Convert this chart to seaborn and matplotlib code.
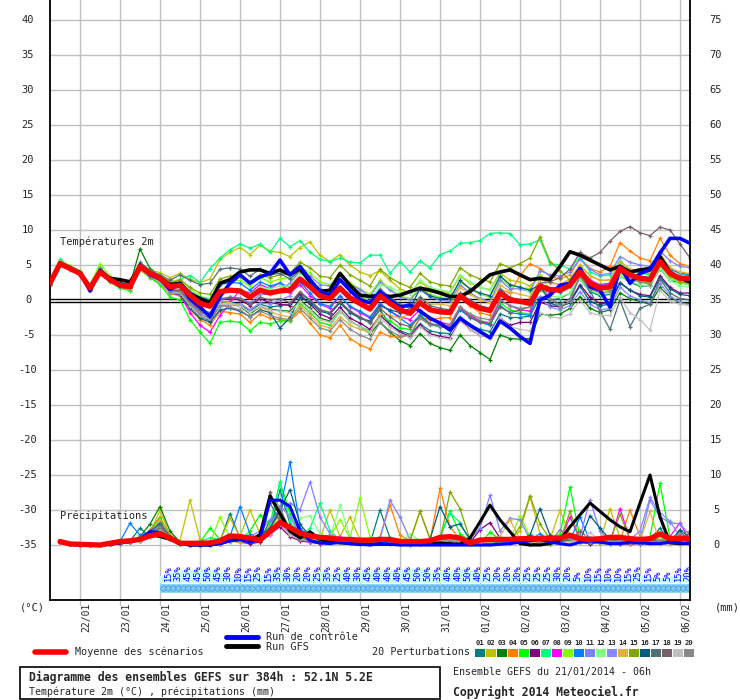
import numpy as np
import pandas as pd
import matplotlib
matplotlib.use('Agg')
import matplotlib.pyplot as plt
import matplotlib.transforms as mtransforms
from matplotlib.lines import Line2D
from matplotlib.patches import Rectangle
import seaborn as sns

# ---- data (6-hourly, run 21/01/2014 06h, 384h) ----
STEP_H = 6
DAY_LABELS = ['22/01', '23/01', '24/01', '25/01', '26/01', '27/01', '28/01', '29/01',
              '30/01', '31/01', '01/02', '02/02', '03/02', '04/02', '05/02', '06/02']
FIRST_MIDNIGHT_H = 18
PRECIP_BASE = -35
LEFT_TICKS = list(range(-35, 45, 5))
RIGHT_TICKS = list(range(0, 80, 5))

MEAN_T = [2.4, 5.2, 4.5, 3.8, 1.7, 4.0, 2.9, 2.1, 1.9, 4.8, 3.8, 3.1,
          1.9, 2.1, 0.7, -0.5, -0.9, 1.2, 1.4, 1.3, 0.4, 1.4, 1.0, 1.3,
          1.4, 3.0, 1.9, 0.6, 0.2, 1.7, 0.3, -0.5, -1.3, 0.6, -0.5, -1.4,
          -1.9, -0.4, -1.4, -1.7, -1.8, 0.6, -0.5, -1.2, -1.5, 1.0, 0.0, -0.2,
          -0.5, 2.0, 1.5, 1.4, 2.1, 4.0, 2.4, 1.7, 1.9, 4.5, 3.6, 3.1,
          2.9, 5.5, 3.8, 3.1, 3.1]
CTRL_T = [2.3, 5.3, 4.6, 3.9, 1.3, 4.2, 2.8, 2.3, 2.0, 5.0, 3.6, 3.0, 1.5, 2.3,
          0.2, -1.0, -2.4, 0.5, 2.4, 3.6, 2.4, 3.3, 3.8, 5.7, 3.6, 4.8, 2.9, 1.2, 0.7, 2.9, 1.4, 0.0,
          -0.4, 1.2, 0.0, -1.0, -0.7, -1.6, -2.6, -3.3, -4.3, -2.6, -3.6, -4.5, -5.4, -3.0, -4.0, -5.2, -6.2,
          0.0, 0.7, 2.1, 2.4, 4.5, 1.9, 1.4, -1.0, 4.8, 2.4, 3.8, 4.3, 6.7, 8.8, 8.8, 8.1]
GFS_T = [2.4, 5.1, 4.5, 3.8, 1.8, 4.1, 3.1, 2.9, 2.6, 4.7, 3.8, 3.2, 2.2, 2.4,
         0.9, 0.2, -0.4, 2.4, 2.9, 4.0, 4.3, 4.3, 3.8, 4.3, 3.6, 4.5, 2.6, 1.2, 1.4, 3.8, 2.1, 0.7,
         0.5, 0.7, 0.5, 0.7, 1.2, 1.7, 1.4, 1.0, 0.5, 0.5, 1.2, 2.4, 3.6, 4.0, 4.3, 3.6, 2.9,
         3.1, 2.9, 4.8, 6.9, 6.4, 5.7, 5.0, 4.3, 4.8, 4.0, 4.3, 4.5, 6.2, 4.0, 3.1, 2.6]

T01 = [2.2, 5.0, 4.6, 3.9, 1.5, 4.2, 2.8, 2.0, 1.7, 4.6, 3.5, 2.7, 1.2, 1.3, -0.2, -1.6,
       -2.2, -0.3, -0.3, -0.6, -1.6, -0.6, -1.0, -0.8, -0.6, 1.0, -0.1, -1.4, -1.8, -0.3, -1.7, -2.5,
       -3.3, -1.4, -3.5, -4.4, -4.9, -3.4, -4.4, -4.7, -4.8, -2.4, -3.5, -4.2, -4.5, -2.0, -2.5, -2.5,
       -2.3, 0.5, 0.0, 0.2, 1.0, 3.0, 1.2, 0.6, 0.8, 3.5, 2.5, 2.0, 2.0, 4.5, 2.8, 2.5, 2.2]
T02 = [2.6, 5.6, 4.9, 4.0, 2.0, 4.3, 3.2, 2.5, 2.3, 5.2, 4.3, 3.9, 3.2, 3.8, 3.0, 2.5,
       3.0, 5.8, 6.8, 7.5, 6.5, 7.8, 7.0, 6.8, 6.2, 7.5, 8.3, 6.4, 5.5, 6.5, 5.0, 4.0,
       3.5, 4.2, 2.8, 1.6, 1.0, 2.6, 1.6, 1.3, 1.0, 3.4, 2.4, 1.8, 1.5, 3.9, 2.8, 2.6,
       2.0, 3.4, 2.6, 2.2, 3.0, 5.0, 3.5, 2.8, 2.9, 5.5, 4.4, 3.9, 3.8, 6.6, 4.6, 3.8, 3.6]
T03 = [2.2, 5.4, 4.6, 3.9, 1.6, 4.4, 3.0, 2.3, 2.1, 7.3, 4.5, 3.3, 1.5, 1.2, -0.8, -2.3,
       -3.0, -0.8, -0.6, -0.9, -2.0, -1.0, -1.3, -1.5, -1.6, 0.0, -1.2, -2.6, -3.0, -1.5, -3.0, -3.8,
       -4.8, -3.2, -4.6, -5.8, -6.5, -4.8, -6.2, -6.8, -7.2, -5.0, -6.5, -7.5, -8.5, -5.0, -5.5, -5.6,
       -5.5, -2.0, -2.2, -2.0, -1.2, 0.5, -1.2, -1.8, -1.4, 1.0, 0.2, -0.2, -0.6, 1.8, 0.4, -0.4, -0.5]
T04 = [2.4, 5.1, 4.4, 3.7, 1.6, 3.8, 2.6, 1.8, 1.5, 4.3, 3.2, 2.4, 0.9, 0.6, -1.3, -2.8,
       -3.6, -1.6, -1.8, -2.0, -3.2, -2.0, -2.6, -2.8, -3.0, -1.6, -3.3, -5.0, -5.4, -3.6, -5.5, -6.4,
       -7.0, -4.6, -5.2, -5.3, -5.0, -2.5, -2.8, -2.6, -2.5, 0.6, -0.8, -1.8, -2.2, 1.5, 1.0, 3.5,
       5.2, 4.5, 3.4, 3.0, 3.6, 6.0, 4.5, 4.0, 4.8, 8.2, 7.0, 6.0, 5.6, 8.8, 6.4, 5.2, 4.8]
T05 = [2.3, 5.2, 4.4, 3.6, 1.4, 3.9, 2.6, 1.7, 1.3, 4.4, 3.2, 2.2, 0.4, 0.0, -2.8, -4.6,
       -6.2, -3.2, -3.0, -3.2, -4.4, -3.2, -3.4, -3.0, -3.0, -0.5, -1.8, -3.2, -3.6, -1.6, -3.0, -3.8,
       -4.4, -2.2, -3.0, -4.0, -4.2, -2.0, -3.4, -3.6, -3.8, -1.0, -2.0, -3.0, -3.2, -0.4, -1.4, -1.8,
       -2.0, 1.5, 1.2, 1.4, 2.4, 4.8, 2.8, 2.0, 2.4, 5.0, 3.8, 3.2, 3.0, 6.0, 4.0, 3.0, 2.8]
T06 = [2.5, 5.2, 4.4, 3.9, 1.7, 4.1, 2.9, 2.0, 1.8, 4.6, 3.6, 2.9, 1.4, 1.4, -0.3, -1.6,
       -2.0, 0.0, 0.2, 0.0, -0.8, 0.2, -0.4, -0.6, -0.8, 0.8, -0.6, -2.0, -2.6, -1.0, -2.6, -3.3,
       -4.2, -2.2, -3.5, -4.6, -5.2, -3.6, -4.8, -5.2, -5.4, -2.8, -4.2, -5.0, -5.4, -2.6, -3.6, -3.2,
       -3.2, -0.3, -0.8, -1.0, -0.2, 2.2, 0.4, -0.5, -0.4, 2.5, 1.4, 0.8, 0.6, 3.5, 1.8, 1.0, 1.0]
T07 = [2.7, 5.8, 4.8, 4.2, 2.0, 4.6, 3.2, 2.5, 2.2, 5.2, 4.0, 3.5, 2.4, 3.0, 3.5, 2.5,
       4.5, 6.0, 7.2, 8.0, 7.4, 8.0, 6.8, 8.8, 7.6, 8.5, 6.8, 5.8, 5.5, 6.0, 5.4, 5.3,
       6.4, 6.4, 3.8, 5.5, 4.0, 5.6, 4.6, 6.5, 7.0, 8.1, 8.2, 8.5, 9.5, 9.6, 9.5, 7.9,
       8.0, 8.6, 5.2, 5.0, 4.4, 6.2, 4.0, 3.4, 3.6, 5.6, 4.2, 3.8, 3.6, 5.8, 4.5, 3.8, 3.4]
T08 = [2.4, 5.2, 4.5, 3.8, 1.6, 4.0, 2.8, 2.0, 1.8, 4.6, 3.5, 2.7, 1.0, 0.8, -1.8, -3.6,
       -4.6, -2.2, -0.5, 1.5, 1.0, 2.2, 1.6, 2.5, 1.0, 2.2, 0.6, -0.6, -1.2, 0.6, -1.0, -1.8,
       -2.6, -0.5, -1.6, -2.4, -2.8, -1.4, -2.6, -3.2, -3.5, -1.0, -2.2, -3.0, -3.4, 0.0, -0.8, -1.4,
       -1.6, 1.8, 1.0, 1.5, 2.5, 4.6, 2.8, 2.2, 2.4, 4.6, 3.4, 3.4, 3.2, 5.2, 3.6, 3.4, 3.2]
T09 = [2.6, 5.6, 4.9, 4.1, 2.2, 5.2, 3.4, 2.4, 2.2, 5.0, 4.1, 3.6, 2.6, 2.9, 1.6, 0.5,
       0.2, 2.6, 2.8, 2.8, 2.0, 3.2, 2.6, 3.0, 3.2, 4.8, 3.8, 2.6, 2.2, 3.8, 2.4, 1.6,
       0.8, 2.8, 1.6, 0.6, 0.2, 1.8, 0.8, 0.4, 0.2, 2.6, 1.6, 0.8, 0.4, 3.0, 2.0, 1.8,
       1.6, 3.6, 1.5, 1.0, 1.8, 3.8, 2.0, 1.2, 1.4, 4.0, 3.0, 2.6, 2.4, 5.0, 3.2, 2.4, 2.2]
T10 = [2.4, 5.3, 4.5, 3.8, 1.8, 4.1, 3.0, 2.1, 2.0, 4.9, 3.9, 3.2, 2.2, 2.6, 1.2, 0.4,
       0.0, 2.2, 2.5, 2.4, 1.4, 2.6, 2.0, 2.4, 1.8, 2.6, 1.0, -0.5, -0.9, 0.6, -0.9, -1.6,
       -2.4, -0.6, -1.6, -2.6, -3.6, -2.2, -3.4, -3.8, -4.0, -1.4, -2.5, -3.2, -3.6, -0.8, -1.8, -2.0,
       -2.2, 1.8, 1.4, 1.2, 2.0, 4.2, 2.6, 2.0, 2.0, 4.8, 3.8, 3.4, 3.2, 5.6, 4.4, 3.8, 3.6]
T11 = [2.3, 5.1, 4.3, 3.7, 1.4, 3.8, 2.7, 1.9, 1.7, 4.5, 3.4, 2.6, 1.2, 1.2, -0.4, -1.8,
       -2.2, 0.0, 0.4, 0.3, -0.4, 0.8, 0.8, 1.5, 2.4, 4.2, 3.4, 2.2, 2.0, 3.6, 2.2, 1.5,
       0.5, 2.6, 1.4, 0.5, 0.0, 1.5, 0.4, 0.0, -0.2, 2.2, 1.0, 0.2, -0.2, 2.8, 1.6, 1.6,
       1.2, 4.2, 3.6, 3.4, 4.0, 5.8, 4.4, 3.6, 3.8, 6.2, 5.4, 5.0, 4.8, 7.0, 5.6, 4.8, 4.6]
T12 = [2.4, 5.3, 4.6, 3.8, 1.9, 4.2, 3.0, 2.2, 2.0, 4.9, 3.9, 3.2, 2.0, 2.2, 0.8, -0.3,
       -0.6, 1.4, 1.6, 1.6, 0.8, 1.8, 1.6, 2.0, 2.0, 3.8, 2.8, 1.6, 1.2, 2.8, 1.4, 0.6,
       -0.2, 2.2, 1.8, 1.2, 1.0, 2.8, 1.8, 1.4, 1.2, 3.6, 2.6, 1.8, 1.4, 3.6, 2.2, 1.8,
       1.2, 1.8, 0.6, 0.4, 1.0, 3.0, 1.4, 0.8, 1.0, 3.4, 2.6, 2.2, 2.0, 4.6, 2.8, 2.0, 1.8]
T13 = [2.4, 5.2, 4.4, 3.8, 1.6, 4.0, 2.8, 2.0, 1.8, 4.7, 3.6, 2.9, 1.4, 1.0, -0.8, -2.4,
       -2.8, -0.8, -0.6, -0.5, -1.4, -0.4, -0.6, 0.0, 0.6, 3.0, 2.0, 0.8, 0.4, 2.0, 0.6, -0.2,
       -1.0, 1.0, -0.2, -1.2, -1.6, 0.0, -1.2, -1.4, -1.6, 1.0, -0.2, -1.0, -1.2, 1.4, 0.2, 0.0,
       -0.2, 0.4, -1.0, -1.4, -0.8, 1.2, -0.6, -1.4, -1.2, 1.8, 0.6, 0.0, -0.4, 2.4, 0.6, -0.4, -0.7]
T14 = [2.4, 5.1, 4.5, 3.7, 1.7, 3.9, 2.9, 2.1, 1.8, 4.7, 3.7, 2.8, 1.5, 1.8, 0.0, -1.5,
       -2.0, -0.2, -0.4, -0.8, -1.8, -1.0, -1.6, -2.2, -2.4, -0.8, -2.2, -3.6, -4.0, -2.4, -3.6, -4.2,
       -4.6, -2.0, -2.2, -2.6, -2.0, 0.4, -0.6, -0.6, -0.8, 1.8, 0.8, 0.0, -0.4, 2.2, 1.2, 0.8,
       0.5, 3.0, 2.4, 2.2, 3.0, 5.0, 3.4, 2.8, 2.8, 5.4, 4.4, 4.0, 3.8, 6.4, 4.6, 4.0, 3.8]
T15 = [2.5, 5.4, 4.6, 3.9, 1.9, 4.3, 3.1, 2.3, 2.1, 5.0, 4.0, 3.4, 2.4, 2.9, 1.8, 1.0,
       0.8, 3.0, 3.4, 3.4, 2.6, 3.6, 3.2, 3.6, 3.8, 5.4, 4.6, 3.4, 3.2, 5.0, 3.6, 2.8,
       2.0, 4.4, 3.2, 2.4, 1.8, 3.8, 2.6, 2.2, 2.0, 4.6, 3.6, 3.0, 2.6, 5.2, 4.6, 5.2,
       6.0, 9.0, 5.5, 4.2, 2.8, 4.6, 2.4, 1.6, 1.4, 4.0, 3.0, 2.6, 2.4, 5.0, 3.4, 2.6, 2.4]
T16 = [2.3, 5.0, 4.4, 3.7, 1.5, 4.0, 2.8, 2.0, 1.7, 4.6, 3.5, 2.7, 1.0, 0.8, -1.2, -2.6,
       -3.2, -1.4, -1.2, -1.6, -2.4, -1.4, -1.8, -4.0, -2.5, 0.4, -0.4, -1.6, -2.0, -0.4, -1.8, -2.6,
       -3.0, -0.8, -1.4, -1.8, -1.2, 1.6, 0.6, 0.2, 0.2, 2.8, 1.6, 1.0, 0.6, 3.4, 2.2, 1.8,
       1.4, 2.2, -0.4, -1.0, -0.4, 2.0, -0.2, -0.8, -0.6, 2.4, 1.4, 0.6, 0.4, 3.2, 1.6, 0.8, 0.6]
T17 = [2.5, 5.4, 4.7, 4.0, 1.9, 4.6, 3.2, 2.4, 2.2, 5.4, 4.2, 3.6, 2.8, 3.6, 2.8, 2.2,
       2.4, 4.4, 4.6, 4.4, 3.4, 4.4, 3.6, 3.8, 3.0, 4.2, 2.8, 1.6, 1.2, 2.8, 1.2, 0.4,
       -0.4, 1.6, 0.4, -0.6, -1.2, 0.4, -0.8, -1.2, -1.4, 1.0, 0.0, -0.8, -1.2, 1.6, 0.4, 0.0,
       -0.4, 1.6, 0.2, -0.6, 0.2, 3.4, 1.4, -1.6, -4.2, 0.0, -3.8, -1.2, -0.6, 3.0, 1.0, 0.2, 0.0]
T18 = [2.4, 5.2, 4.5, 3.8, 1.6, 4.1, 2.9, 2.1, 1.8, 4.8, 3.7, 2.9, 1.3, 1.4, -0.2, -1.4,
       -1.8, 0.2, 0.4, 0.2, -0.6, 0.4, 0.0, 0.2, -0.4, 1.2, 0.0, -1.4, -1.8, -0.2, -1.6, -2.4,
       -3.2, -1.2, -2.4, -3.4, -3.8, -2.4, -3.4, -3.6, -3.8, -1.2, -2.4, -3.2, -3.4, -1.0, -1.8, -1.4,
       -1.0, 2.4, 2.6, 3.2, 4.4, 6.8, 6.0, 6.8, 8.4, 9.8, 10.5, 9.6, 9.2, 10.4, 10.0, 8.0, 6.0]
T19 = [2.3, 5.0, 4.3, 3.6, 1.5, 3.8, 2.7, 1.9, 1.6, 4.4, 3.4, 2.6, 1.0, 1.0, -0.8, -2.2,
       -2.6, -0.6, -0.6, -0.8, -1.8, -0.8, -1.4, -1.6, -1.8, -0.2, -1.4, -2.8, -3.2, -1.6, -3.0, -3.8,
       -4.6, -2.6, -3.8, -4.8, -5.4, -3.8, -5.0, -5.4, -5.6, -3.0, -4.2, -5.0, -5.4, -2.6, -3.8, -4.2,
       -4.4, -1.8, -2.4, -2.6, -2.0, 0.0, -1.8, -2.2, -2.2, 0.4, -1.8, -2.8, -4.3, 1.4, -0.2, -0.6, -0.8]
T20 = [2.4, 5.1, 4.4, 3.7, 1.5, 3.9, 2.7, 1.9, 1.7, 4.6, 3.5, 2.8, 1.2, 1.2, -0.6, -2.0,
       -2.6, -0.8, -1.0, -1.4, -2.4, -1.6, -2.2, -2.6, -2.8, -1.2, -2.6, -4.0, -4.4, -2.8, -4.2, -5.0,
       -5.6, -3.2, -4.4, -5.2, -5.0, -2.6, -3.6, -3.8, -3.6, -1.0, -2.0, -2.6, -2.8, 0.0, -0.8, -1.2,
       -1.0, 2.4, 0.2, -1.0, -0.2, 3.4, 1.6, 1.0, 1.2, 4.4, 3.4, 2.6, 2.2, 5.6, 4.0, 3.2, 3.0]

# precipitation (mm per 6h), first value = +6h
MEAN_P = [0.5, 0.15, 0.1, 0.05, 0.0, 0.25, 0.5, 0.6, 0.8, 1.3, 1.6, 1.0, 0.25, 0.25, 0.25, 0.3,
          0.6, 1.3, 1.2, 1.0, 0.7, 1.9, 3.2, 2.5, 1.7, 1.3, 1.1, 1.0, 0.8, 0.8, 0.7, 0.7,
          0.8, 0.8, 0.5, 0.5, 0.5, 0.6, 1.1, 1.2, 1.0, 0.3, 0.7, 0.8, 0.8, 0.8, 0.9, 0.9,
          0.9, 1.0, 1.0, 1.4, 0.9, 0.8, 0.9, 1.1, 1.1, 0.9, 0.8, 0.9, 1.6, 0.9, 1.0, 0.9]
CTRL_P = [0.5, 0.1, 0, 0, 0, 0.1, 0.3, 0.5, 0.8, 1.9, 1.8, 1.0, 0.2, 0, 0, 0,
          0.2, 0.6, 0.8, 0.4, 0.8, 6.4, 6.4, 5.5, 2.0, 0.6, 0.3, 0.2, 0.4, 0.2, 0.1, 0.0,
          0.2, 0.1, 0, 0, 0, 0, 0, 0, 0, 0, 0, 0, 0.1, 0.2, 0.4, 0.6,
          0.8, 0.4, 0.2, 0.0, 0.4, 0.6, 0.4, 0.2, 0.2, 0.4, 0.3, 0.2, 0.2, 0.4, 0.3, 0.2]
GFS_P = [0.5, 0.1, 0, 0, 0, 0.1, 0.3, 0.5, 0.8, 1.5, 1.2, 0.8, 0.2, 0, 0, 0,
         0.2, 0.6, 0.8, 0.6, 1.5, 7.0, 4.5, 2.0, 1.0, 1.9, 0.8, 0.4, 0.3, 0.2, 0.1, 0.1,
         0.1, 0.1, 0.2, 0.1, 0.1, 0.2, 0.3, 0.2, 0.1, 1.0, 3.3, 5.7, 3.6, 1.9, 0.2, 0.0,
         0.0, 0.2, 0.7, 2.6, 4.3, 6.0, 4.8, 3.6, 2.6, 1.9, 6.0, 10.0, 4.0, 0.3, 0.2, 0.2]

P01 = [0.5, 0.1, 0, 0, 0, 0.2, 0.4, 0.6, 2.4, 1.2, 2.0, 0.8, 0.2, 0, 0, 0.3,
       0.5, 4.5, 1.0, 0.6, 0.4, 2.0, 7.9, 3.0, 1.0, 0.6, 0.4, 0.8, 0.6, 0.4, 0.3, 0.2,
       5.0, 1.0, 0.3, 0.2, 0.2, 0.4, 0.8, 0.6, 0.4, 0.2, 0.5, 0.6, 0.4, 0.3, 0.3, 0.5,
       0.8, 0.6, 0.4, 0.8, 0.6, 1.0, 0.6, 0.8, 0.5, 0.4, 0.6, 0.8, 2.4, 0.6, 2.0, 0.4]
P02 = [0.5, 0.1, 0, 0, 0, 0.3, 0.5, 0.4, 0.6, 1.6, 5.0, 1.4, 0.6, 6.4, 0.8, 0.2,
       0.6, 3.8, 1.2, 5.0, 1.6, 2.4, 3.4, 1.6, 0.8, 1.0, 0.8, 5.0, 1.2, 4.0, 0.8, 0.6,
       0.8, 0.6, 0.4, 0.6, 4.8, 1.0, 0.6, 0.8, 0.5, 0.4, 0.6, 0.8, 0.6, 0.8, 2.0, 6.9,
       1.6, 0.8, 5.0, 1.4, 0.6, 1.2, 0.6, 5.2, 1.0, 0.4, 0.3, 0.6, 0.8, 0.4, 0.3, 1.0]
P03 = [0.5, 0.1, 0, 0, 0, 0.2, 0.4, 0.6, 1.2, 3.0, 5.5, 2.0, 0.4, 0.2, 0, 0.1,
       0.2, 0.6, 0.8, 0.4, 0.6, 3.5, 5.0, 2.0, 0.8, 0.4, 0.3, 0.6, 0.4, 0.3, 0.2, 0.4,
       0.4, 0.2, 0.1, 0, 0.2, 0.4, 0.6, 0.8, 0.5, 0.2, 0.1, 0.2, 0.4, 0.6, 0.4, 0.3,
       0.4, 0.2, 0.6, 0.8, 0.4, 0.2, 0.3, 0.1, 0.2, 0.4, 0.6, 0.3, 1.2, 0.4, 0.2, 0.1]
P04 = [0.5, 0.1, 0, 0, 0, 0.2, 0.3, 0.5, 0.8, 2.2, 4.0, 1.4, 0.3, 0.1, 0, 0,
       0.3, 1.2, 0.6, 0.4, 0.8, 2.8, 4.2, 2.0, 1.4, 0.6, 0.3, 0.5, 0.8, 0.6, 0.4, 0.3,
       1.2, 5.7, 1.4, 0.6, 0.4, 0.6, 8.1, 2.6, 0.8, 0.4, 0.3, 0.5, 0.6, 0.4, 0.3, 0.2,
       0.3, 0.4, 0.6, 0.8, 0.6, 0.4, 0.5, 0.3, 0.6, 5.0, 1.2, 0.3, 0.2, 0.1, 0.4, 0.2]
P05 = [0.5, 0.1, 0, 0, 0, 0.1, 0.3, 0.4, 1.0, 2.0, 3.8, 1.2, 0.2, 0, 0.4, 2.4,
       0.8, 0.5, 0.6, 2.0, 4.3, 3.0, 9.0, 4.5, 1.0, 0.6, 0.4, 0.3, 0.5, 0.6, 0.3, 0.2,
       0.6, 0.8, 0.4, 0.2, 0.4, 0.6, 1.2, 4.8, 1.6, 0.6, 0.3, 1.8, 0.8, 0.4, 0.3, 0.2,
       0.4, 0.6, 1.6, 8.3, 1.0, 0.6, 0.4, 0.3, 0.8, 0.6, 0.4, 1.2, 8.8, 1.0, 0.4, 0.3]
P06 = [0.5, 0.1, 0, 0, 0, 0.1, 0.2, 0.4, 0.6, 1.4, 2.2, 0.8, 0.2, 0, 0, 0,
       0.2, 0.6, 0.4, 0.2, 0.4, 1.6, 2.6, 1.2, 0.6, 0.4, 0.2, 0.4, 0.6, 0.4, 0.3, 0.2,
       0.4, 0.6, 0.2, 0.1, 0.2, 0.4, 0.6, 0.8, 0.4, 0.3, 2.2, 3.2, 1.0, 0.4, 0.3, 0.2,
       0.2, 0.4, 0.6, 0.8, 0.4, 0.2, 0.3, 0.4, 0.2, 0.1, 0.2, 0.3, 0.4, 0.6, 0.2, 0.1]
P07 = [0.5, 0.1, 0, 0, 0, 0.2, 0.3, 0.5, 1.0, 2.0, 3.2, 1.2, 0.4, 0.2, 0.6, 1.0,
       0.8, 1.0, 0.6, 0.8, 1.2, 2.6, 9.0, 3.4, 1.2, 2.4, 6.0, 2.0, 0.8, 0.6, 0.4, 0.3,
       0.6, 0.4, 0.3, 0.2, 0.4, 0.6, 1.0, 4.6, 3.2, 0.6, 0.4, 0.8, 0.6, 0.4, 0.6, 1.6,
       0.8, 0.4, 0.6, 1.0, 0.6, 0.4, 0.3, 0.6, 0.4, 0.3, 0.4, 0.6, 1.4, 0.8, 0.4, 0.2]
P08 = [0.5, 0.1, 0, 0, 0, 0.1, 0.3, 0.5, 0.6, 1.6, 2.4, 1.0, 0.2, 0, 0, 0,
       0.2, 0.8, 1.2, 0.6, 0.8, 1.4, 3.0, 1.6, 0.8, 0.4, 0.3, 0.8, 1.2, 0.6, 0.4, 0.3,
       0.4, 0.6, 0.4, 0.2, 0.3, 0.4, 0.6, 0.8, 0.6, 0.4, 0.3, 0.6, 0.5, 0.4, 0.6, 0.8,
       0.6, 0.4, 0.6, 4.0, 0.8, 0.6, 0.4, 0.3, 5.2, 0.8, 0.4, 0.6, 0.4, 1.2, 3.2, 0.4]
P09 = [0.5, 0.1, 0, 0, 0, 0.2, 0.3, 0.4, 0.8, 1.8, 3.0, 1.0, 0.2, 0, 0, 0.2,
       4.0, 1.0, 0.6, 0.8, 1.0, 2.0, 4.0, 1.6, 0.8, 0.6, 0.8, 1.2, 3.6, 1.0, 6.7, 1.2,
       0.8, 0.6, 0.4, 0.3, 0.6, 0.8, 0.6, 0.4, 0.8, 0.6, 0.4, 0.6, 0.8, 0.6, 4.2, 1.2,
       0.6, 0.4, 0.8, 0.6, 0.4, 0.6, 0.8, 0.4, 0.6, 0.3, 0.4, 0.6, 0.8, 0.4, 0.6, 1.6]
P10 = [0.5, 0.1, 0, 0, 0, 0.2, 0.5, 3.1, 1.4, 1.8, 2.6, 1.2, 0.3, 0.1, 0, 0.2,
       0.4, 1.2, 5.5, 1.6, 0.8, 2.4, 5.0, 11.9, 2.4, 1.2, 0.6, 0.4, 0.6, 0.4, 0.3, 0.2,
       0.4, 0.3, 0.2, 0.2, 0.3, 0.4, 0.6, 0.8, 0.6, 0.4, 0.3, 0.6, 0.4, 0.3, 0.6, 0.8,
       1.6, 0.6, 0.4, 0.6, 4.0, 0.6, 0.4, 0.3, 0.6, 0.4, 0.3, 0.4, 0.6, 0.4, 0.8, 0.6]
P11 = [0.5, 0.1, 0, 0, 0, 0.2, 0.3, 0.4, 0.8, 1.6, 2.4, 1.0, 0.2, 0, 0, 0,
       0.3, 0.8, 0.6, 1.2, 2.0, 3.6, 4.6, 6.0, 5.0, 9.0, 4.0, 1.6, 0.8, 0.6, 0.4, 0.3,
       0.8, 6.4, 4.0, 0.8, 0.4, 0.6, 0.8, 0.6, 0.4, 0.8, 2.4, 7.1, 2.0, 3.8, 3.6, 0.8,
       0.6, 0.4, 0.6, 0.8, 1.2, 6.4, 2.0, 0.6, 0.4, 0.8, 0.6, 6.4, 4.0, 3.2, 3.0, 1.4]
P12 = [0.5, 0.1, 0, 0, 0, 0.2, 0.3, 0.4, 0.6, 1.4, 2.2, 0.8, 0.2, 0, 0, 0.2,
       0.6, 1.0, 0.8, 0.6, 0.8, 1.8, 4.0, 2.6, 3.8, 4.2, 1.6, 1.0, 5.7, 1.2, 0.6, 0.4,
       0.6, 0.8, 0.4, 1.6, 0.6, 0.4, 0.6, 1.4, 0.8, 0.6, 0.4, 0.6, 0.8, 0.6, 0.4, 0.6,
       0.8, 0.6, 0.4, 1.2, 0.6, 0.4, 0.3, 0.6, 0.8, 0.4, 0.3, 0.6, 1.2, 0.6, 0.4, 0.8]
P13 = [0.5, 0.1, 0, 0, 0, 0.2, 0.3, 0.5, 0.8, 1.6, 2.8, 1.0, 0.2, 0, 0, 0,
       0.4, 0.6, 0.8, 0.6, 1.0, 2.4, 5.6, 4.0, 1.6, 0.8, 0.5, 0.6, 0.8, 0.6, 0.4, 0.3,
       0.6, 0.4, 0.3, 0.2, 0.4, 0.6, 0.8, 0.6, 0.4, 0.3, 0.6, 0.8, 0.6, 0.4, 0.6, 0.5,
       0.6, 0.4, 0.8, 0.6, 0.8, 1.0, 0.6, 0.4, 0.6, 0.8, 2.0, 6.8, 4.6, 3.4, 1.2, 0.6]
P14 = [0.5, 0.1, 0, 0, 0, 0.2, 0.3, 0.4, 0.6, 1.6, 3.6, 1.2, 0.3, 0.1, 0, 0,
       0.2, 0.6, 0.4, 0.8, 1.0, 2.2, 3.8, 2.2, 1.0, 0.6, 0.4, 0.6, 0.8, 0.5, 0.3, 0.2,
       0.4, 0.6, 0.3, 0.2, 0.3, 0.4, 0.6, 1.2, 0.6, 0.4, 0.3, 0.6, 1.2, 3.6, 0.8, 0.4,
       0.3, 0.4, 0.6, 0.8, 0.6, 0.4, 0.3, 0.6, 0.4, 0.3, 0.6, 4.8, 0.2, 0.1, 0.1, 0.1]
P15 = [0.5, 0.1, 0, 0, 0, 0.2, 0.3, 0.5, 0.8, 1.8, 2.6, 1.0, 0.3, 0.1, 0, 0.2,
       0.4, 0.8, 1.2, 0.8, 1.0, 2.2, 4.8, 2.4, 1.2, 0.8, 0.6, 0.6, 0.8, 0.6, 0.4, 0.3,
       0.4, 0.6, 0.8, 0.6, 4.8, 0.8, 0.6, 7.6, 5.2, 0.8, 0.4, 0.6, 0.8, 0.6, 2.6, 7.0,
       3.0, 0.8, 0.6, 4.8, 0.8, 0.6, 0.4, 0.6, 4.4, 0.8, 0.6, 0.4, 0.6, 0.4, 0.8, 1.6]
P16 = [0.5, 0.1, 0, 0, 0, 0.2, 0.4, 0.6, 1.0, 2.0, 3.0, 1.2, 0.3, 0.1, 0, 0.2,
       0.6, 1.0, 0.8, 1.0, 1.4, 2.4, 5.0, 7.9, 3.0, 1.2, 0.8, 0.6, 0.8, 0.6, 0.4, 0.3,
       0.6, 0.8, 0.4, 0.3, 0.6, 0.8, 5.5, 2.6, 3.0, 0.8, 0.6, 0.8, 0.6, 0.4, 0.8, 1.4,
       5.2, 1.4, 0.6, 0.8, 0.6, 4.2, 2.4, 0.8, 0.6, 0.4, 0.6, 0.8, 0.6, 0.4, 2.2, 1.0]
P17 = [0.5, 0.1, 0, 0, 0, 0.2, 0.3, 0.5, 0.8, 1.8, 3.2, 1.2, 0.3, 0.1, 0, 0.2,
       0.4, 0.8, 1.0, 0.6, 1.2, 6.0, 3.4, 2.0, 1.0, 0.6, 0.4, 0.6, 0.8, 0.5, 0.4, 0.3,
       0.5, 0.6, 0.4, 0.3, 0.4, 0.6, 0.8, 0.6, 0.4, 0.6, 0.8, 0.6, 0.4, 0.6, 0.8, 0.6,
       0.4, 0.8, 0.6, 0.8, 0.6, 0.4, 0.6, 0.8, 0.6, 0.4, 0.6, 0.8, 0.4, 0.6, 0.8, 0.4]
P18 = [0.5, 0.1, 0, 0, 0, 0.2, 0.3, 0.4, 0.6, 1.4, 2.4, 1.0, 0.2, 0, 0, 0.2,
       0.4, 0.6, 0.8, 0.6, 1.0, 7.6, 4.0, 1.6, 0.8, 0.6, 0.4, 0.6, 0.8, 0.6, 0.4, 0.3,
       0.4, 0.6, 0.3, 0.2, 0.4, 0.6, 0.8, 0.6, 0.4, 0.6, 0.4, 0.6, 0.8, 0.6, 0.4, 0.6,
       0.8, 0.6, 0.4, 0.6, 2.0, 0.8, 0.6, 0.4, 0.6, 0.4, 0.6, 0.8, 0.6, 0.4, 0.6, 1.8]
P19 = [0.5, 0.1, 0, 0, 0, 0.2, 0.3, 0.4, 0.6, 1.2, 2.0, 0.8, 0.2, 0, 0, 0.1,
       0.3, 0.6, 0.8, 0.6, 0.8, 1.6, 3.0, 1.4, 0.8, 0.6, 0.4, 0.6, 0.8, 0.6, 0.4, 0.2,
       0.4, 0.6, 0.3, 0.2, 0.3, 0.4, 0.6, 0.8, 0.5, 0.4, 0.3, 0.5, 0.6, 0.4, 0.3, 0.4,
       0.6, 0.4, 0.3, 0.5, 0.8, 1.8, 0.6, 0.4, 0.3, 0.5, 0.4, 0.3, 0.2, 0.1, 0.2, 0.1]
P20 = [0.5, 0.1, 0, 0, 0, 0.2, 0.3, 0.4, 0.8, 1.6, 2.6, 1.0, 0.2, 0, 0, 0.1,
       0.3, 0.8, 0.6, 0.8, 1.2, 7.0, 5.4, 2.0, 1.0, 0.6, 0.4, 0.6, 0.8, 0.6, 0.4, 0.3,
       0.4, 0.6, 0.4, 0.2, 0.4, 0.6, 0.8, 0.6, 0.4, 0.6, 0.8, 0.6, 0.4, 0.6, 0.8, 0.6,
       0.6, 0.4, 2.2, 0.8, 0.6, 0.8, 0.6, 0.4, 0.6, 0.8, 0.6, 0.4, 0.6, 1.0, 1.6, 2.0]

# probability band (per 6h step, from +66h)
RAIN_PCT = [15, 35, 45, 45, 50, 45, 30, 10, 15, 25, 15, 35, 30, 20, 20, 25, 35, 25, 40, 30,
            45, 40, 40, 40, 45, 50, 50, 35, 40, 40, 50, 40, 25, 20, 20, 20, 25, 25, 25, 30,
            20, 5, 10, 15, 10, 10, 15, 25, 15, 5, 5, 15, 20]

MEMBER_NAMES = ['%02d' % k for k in range(1, 21)]
MEMBER_COLORS = ['#008080', '#c0c000', '#008000', '#ff8000', '#00ff00', '#800080', '#00ff80',
                 '#ff00ff', '#80ff00', '#0080ff', '#8080ff', '#80ff80', '#8888ff', '#e0b040',
                 '#80a800', '#005f80', '#507078', '#786068', '#c0c0c0', '#888888']
MEMBER_TEMPS = [T01, T02, T03, T04, T05, T06, T07, T08, T09, T10,
                T11, T12, T13, T14, T15, T16, T17, T18, T19, T20]
MEMBER_RAIN = [P01, P02, P03, P04, P05, P06, P07, P08, P09, P10,
               P11, P12, P13, P14, P15, P16, P17, P18, P19, P20]

W, H = 740, 700
PX_PER_DEG = 7.0
ZERO_PX = 300


def fx(x):
    return x / W


def fy(y):
    return 1 - y / H


def py(y):
    # pixel row -> value on the temperature axis
    return (ZERO_PX - y) / PX_PER_DEG


def long_frame():
    rows = []
    for name, temps, rain in zip(MEMBER_NAMES, MEMBER_TEMPS, MEMBER_RAIN):
        assert len(temps) == len(MEAN_T), name
        assert len(rain) == len(MEAN_P), name
        for i, v in enumerate(temps):
            rows.append(('T', name, i * STEP_H, v))
        for i, v in enumerate(rain):
            rows.append(('P', name, (i + 1) * STEP_H, PRECIP_BASE + v))
    return pd.DataFrame(rows, columns=['kind', 'member', 'hour', 'value'])


def main():
    sns.set_theme(style='white')
    plt.rcParams['font.family'] = ['DejaVu Sans Mono']
    mono = 'DejaVu Sans Mono'

    fig = plt.figure(figsize=(W / 100, H / 100), dpi=100)
    fig.patch.set_facecolor('white')
    ax = fig.add_axes([fx(50), 100 / H, 640 / W, 600 / H])
    ax.set_facecolor('white')
    n_hours = (len(MEAN_T) - 1) * STEP_H
    ax.set_xlim(0, n_hours)
    ax.set_ylim(py(600), py(0))

    # grid
    day_hours = [FIRST_MIDNIGHT_H + 24 * k for k in range(len(DAY_LABELS))]
    for h in day_hours:
        ax.axvline(h, color='#c0c0c0', lw=1, zorder=0)
    for t in LEFT_TICKS:
        if t != 0:
            ax.axhline(t, color='#c0c0c0', lw=1, zorder=0)
    ax.axhline(py(299.3), color='black', lw=1.0, zorder=1)
    ax.axhline(py(301.5), color='black', lw=1.0, zorder=1)

    df = long_frame()
    for kind in ['T', 'P']:
        sub = df[df.kind == kind]
        for name, col in zip(MEMBER_NAMES, MEMBER_COLORS):
            sns.lineplot(data=sub[sub.member == name], x='hour', y='value', color=col,
                         estimator=None, ax=ax, linewidth=0.9, marker='+', markersize=3.5,
                         markeredgewidth=0.9, markeredgecolor=col, zorder=2)

    hours_t = np.arange(len(MEAN_T)) * STEP_H
    hours_p = (np.arange(len(MEAN_P)) + 1) * STEP_H
    sns.lineplot(x=hours_t, y=GFS_T, color='black', linewidth=2.6, ax=ax, zorder=3)
    sns.lineplot(x=hours_p, y=PRECIP_BASE + np.array(GFS_P), color='black', linewidth=2.2, ax=ax, zorder=3)
    sns.lineplot(x=hours_t, y=CTRL_T, color='#0000ff', linewidth=2.6, ax=ax, zorder=4)
    sns.lineplot(x=hours_p, y=PRECIP_BASE + np.array(CTRL_P), color='#0000ff', linewidth=2.2, ax=ax, zorder=4)
    sns.lineplot(x=hours_t, y=MEAN_T, color='#ff0000', linewidth=3.8, ax=ax, zorder=5)
    sns.lineplot(x=hours_p, y=PRECIP_BASE + np.array(MEAN_P), color='#ff0000', linewidth=3.8, ax=ax, zorder=5)

    # probability band
    first_h = n_hours - len(RAIN_PCT) * STEP_H
    band_left = np.array([first_h + k * STEP_H for k in range(len(RAIN_PCT))])
    base = py(583)
    heights = [(4 + 0.2 * p) / PX_PER_DEG for p in RAIN_PCT]
    ax.bar(band_left, heights, bottom=base, width=STEP_H, align='edge',
           color='#c8ffff', linewidth=0, zorder=1)
    ax.fill_between([first_h, n_hours], py(584), py(592.5), color='#8fd6f5', lw=0, zorder=1)
    bead_h = np.arange(first_h + 1.5, n_hours, 3.0)
    ax.scatter(bead_h, np.full(len(bead_h), py(588)), s=16, marker='o',
               facecolor='#7cc8f2', edgecolor='#3d98e0', linewidths=0.5, zorder=2)
    for h, p in zip(band_left, RAIN_PCT):
        ax.text(h + STEP_H * 0.8, py(581), '%d%%' % p, rotation=90, ha='center', va='bottom',
                fontsize=6.2, color='#0000ff', family=mono, zorder=3)

    # spines / ticks
    ax.set_xticks([])
    ax.set_yticks([])
    ax.set_xlabel('')
    ax.set_ylabel('')
    for side in ['left', 'right', 'bottom']:
        ax.spines[side].set_color('black')
        ax.spines[side].set_linewidth(1.3)
    ax.spines['top'].set_visible(False)

    lab = mtransforms.blended_transform_factory(fig.transFigure, ax.transData)
    for t in LEFT_TICKS:
        fig.text(fx(28), t, str(t), transform=lab, ha='center', va='center',
                 fontsize=7.5, family=mono)
    for r in RIGHT_TICKS:
        fig.text(fx(716), r - 35, str(r), transform=lab, ha='center', va='center',
                 fontsize=7.5, family=mono)

    ax.text(fx(60), py(242), 'Températures 2m', transform=lab, ha='left', va='center',
            fontsize=7.5, family=mono)
    ax.text(fx(60), py(516), 'Précipitations', transform=lab, ha='left', va='center',
            fontsize=7.5, family=mono)

    for h, d in zip(day_hours, DAY_LABELS):
        ax.text(h + 3.6, py(603), d, rotation=90, ha='center', va='top', fontsize=7,
                family=mono, clip_on=False)
        ax.plot([h, h], [py(600), py(605)], color='#c0c0c0', lw=1, clip_on=False, zorder=0)

    fig.text(fx(32), fy(607), '(°C)', ha='center', va='center', fontsize=7.5, family=mono)
    fig.text(fx(727), fy(607), '(mm)', ha='center', va='center', fontsize=7.5, family=mono)

    # legend
    fig.add_artist(Line2D([fx(35), fx(66)], [fy(652), fy(652)], color='#ff0000', lw=4))
    fig.text(fx(75), fy(652), 'Moyenne des scénarios', ha='left', va='center', fontsize=7.3, family=mono)
    fig.add_artist(Line2D([fx(226), fx(258)], [fy(637), fy(637)], color='#0000ff', lw=3.5))
    fig.text(fx(266), fy(637), 'Run de contrôle', ha='left', va='center', fontsize=7.3, family=mono)
    fig.add_artist(Line2D([fx(226), fx(258)], [fy(646), fy(646)], color='black', lw=3.5))
    fig.text(fx(266), fy(647), 'Run GFS', ha='left', va='center', fontsize=7.3, family=mono)
    fig.text(fx(372), fy(652), '20 Perturbations', ha='left', va='center', fontsize=7.3, family=mono)
    for k, (name, col) in enumerate(zip(MEMBER_NAMES, MEMBER_COLORS)):
        x0 = 475 + 11 * k
        fig.add_artist(Rectangle((fx(x0), fy(657)), 10 / W, 8 / H, transform=fig.transFigure,
                                 facecolor=col, edgecolor='none'))
        fig.text(fx(x0 + 5), fy(643), name, ha='center', va='center', fontsize=5.2,
                 family=mono, weight='bold')

    # title box
    fig.add_artist(Rectangle((fx(20), fy(699)), 420 / W, 32 / H, transform=fig.transFigure,
                             facecolor='white', edgecolor='black', lw=1.2))
    fig.text(fx(29), fy(677), 'Diagramme des ensembles GEFS sur 384h : 52.1N 5.2E',
             ha='left', va='center', fontsize=8.3, family=mono, weight='bold')
    fig.text(fx(29), fy(692), 'Température 2m (°C) , précipitations (mm)',
             ha='left', va='center', fontsize=7.2, family=mono)
    fig.text(fx(453), fy(672), 'Ensemble GEFS du 21/01/2014 - 06h',
             ha='left', va='center', fontsize=7.2, family=mono)
    fig.text(fx(453), fy(692), 'Copyright 2014 Meteociel.fr',
             ha='left', va='center', fontsize=8.3, family=mono, weight='bold')

    fig.savefig('out.png', dpi=100, facecolor='white')


if __name__ == '__main__':
    main()
